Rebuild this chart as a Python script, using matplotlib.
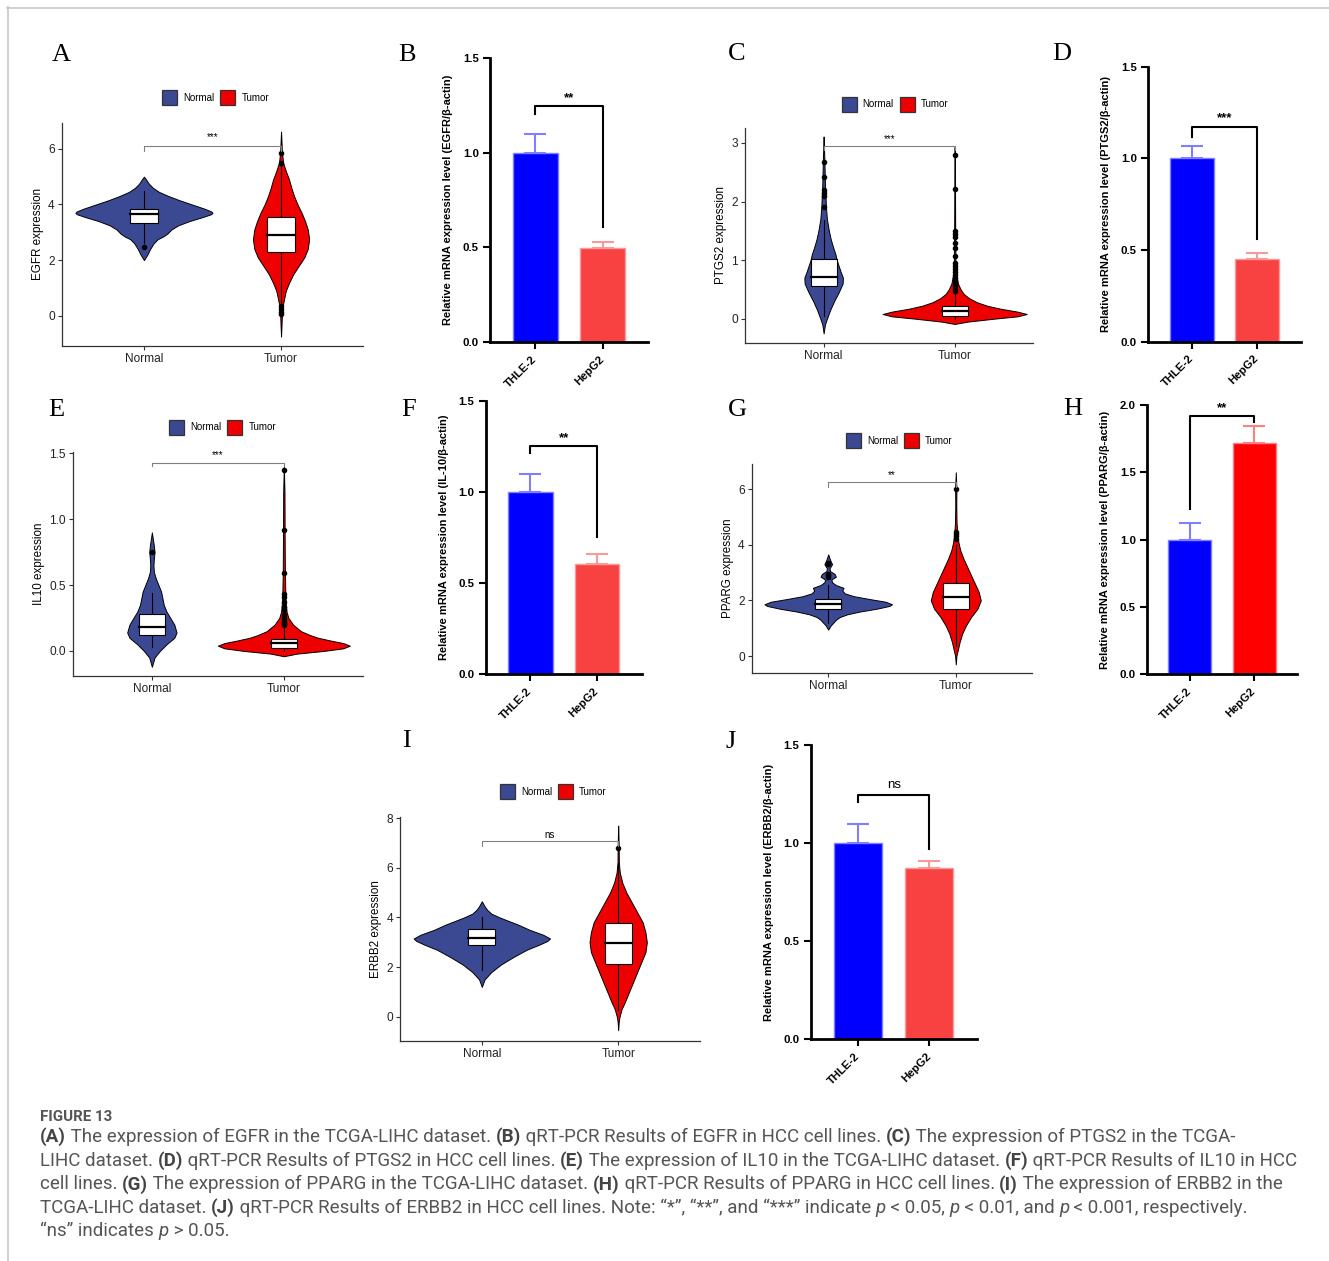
import matplotlib
matplotlib.use("Agg")
import matplotlib.pyplot as plt
from matplotlib.patches import Rectangle
from matplotlib import font_manager
import numpy as np

W, H = 1329, 1261

GROUPS = ["Normal", "Tumor"]
CELL_LINES = ["THLE-2", "HepG2"]

# TCGA violins: outline as (y, half width), box = [whisker_lo, q1, median, q3, whisker_hi], outliers
EGFR_N_Y = [2.0, 2.2, 2.4, 2.6, 2.75, 2.85, 2.95, 3.1, 3.25, 3.4, 3.55, 3.65, 3.7, 3.75, 3.85, 4.0, 4.15, 4.3, 4.45, 4.6, 4.75, 4.9, 5.0]
EGFR_N_W = [0, 0.025, 0.045, 0.07, 0.1, 0.14, 0.17, 0.2, 0.25, 0.33, 0.43, 0.49, 0.5, 0.49, 0.44, 0.35, 0.26, 0.18, 0.11, 0.065, 0.035, 0.015, 0]
EGFR_N_BOX = [2.6, 3.35, 3.65, 3.84, 4.5]
EGFR_N_OUT = [2.46]
EGFR_T_Y = [-0.75, -0.4, 0.0, 0.3, 0.6, 0.9, 1.2, 1.5, 1.8, 2.1, 2.4, 2.75, 3.1, 3.4, 3.7, 4.0, 4.3, 4.6, 4.9, 5.2, 5.5, 5.9, 6.3, 6.62]
EGFR_T_W = [0, 0.003, 0.006, 0.01, 0.022, 0.035, 0.06, 0.09, 0.13, 0.17, 0.195, 0.205, 0.195, 0.175, 0.15, 0.12, 0.095, 0.075, 0.058, 0.035, 0.015, 0.006, 0.003, 0]
EGFR_T_BOX = [0.45, 2.3, 2.9, 3.54, 5.4]
EGFR_T_OUT = [5.85, 5.5, 0.35, 0.25, 0.15, 0.05]

PTGS2_N_Y = [-0.25, -0.1, 0.0, 0.15, 0.3, 0.45, 0.6, 0.7, 0.8, 0.9, 1.0, 1.1, 1.2, 1.35, 1.5, 1.7, 1.9, 2.1, 2.3, 2.5, 2.7, 2.9, 3.11]
PTGS2_N_W = [0, 0.01, 0.025, 0.05, 0.08, 0.115, 0.145, 0.147, 0.13, 0.115, 0.1, 0.09, 0.075, 0.055, 0.04, 0.025, 0.018, 0.014, 0.01, 0.008, 0.006, 0.003, 0]
PTGS2_N_BOX = [0.05, 0.565, 0.72, 1.015, 1.69]
PTGS2_N_OUT = [1.9, 2.1, 2.15, 2.2, 2.42, 2.68]
PTGS2_T_Y = [-0.09, -0.05, 0.0, 0.04, 0.08, 0.12, 0.17, 0.22, 0.28, 0.35, 0.42, 0.5, 0.6, 0.75, 1.0, 1.5, 2.0, 2.5, 2.93]
PTGS2_T_W = [0, 0.1, 0.3, 0.48, 0.55, 0.48, 0.35, 0.25, 0.17, 0.11, 0.07, 0.045, 0.025, 0.012, 0.006, 0.004, 0.003, 0.002, 0]
PTGS2_T_BOX = [0.0, 0.05, 0.137, 0.217, 0.46]
PTGS2_T_OUT = [2.8, 2.21, 1.5, 1.45, 1.4, 1.3, 1.2, 1.07, 0.95, 0.9, 0.85, 0.8, 0.75, 0.7, 0.65, 0.6, 0.55, 0.5, 0.47]

IL10_N_Y = [-0.12, -0.05, 0.0, 0.05, 0.1, 0.14, 0.2, 0.25, 0.3, 0.35, 0.4, 0.45, 0.5, 0.55, 0.6, 0.65, 0.7, 0.75, 0.8, 0.9]
IL10_N_W = [0, 0.02, 0.06, 0.11, 0.17, 0.187, 0.17, 0.14, 0.11, 0.09, 0.08, 0.07, 0.05, 0.03, 0.015, 0.012, 0.015, 0.02, 0.015, 0]
IL10_N_BOX = [0.033, 0.121, 0.184, 0.28, 0.44]
IL10_N_OUT = [0.75]
IL10_T_Y = [-0.04, -0.02, 0.0, 0.02, 0.04, 0.06, 0.08, 0.1, 0.12, 0.15, 0.2, 0.25, 0.3, 0.4, 0.6, 0.9, 1.2, 1.4]
IL10_T_W = [0, 0.1, 0.3, 0.45, 0.5, 0.45, 0.35, 0.26, 0.2, 0.13, 0.07, 0.035, 0.02, 0.012, 0.008, 0.006, 0.005, 0]
IL10_T_BOX = [0.0, 0.02, 0.058, 0.089, 0.19]
IL10_T_OUT = [1.37, 0.92, 0.59, 0.43, 0.41, 0.37, 0.33, 0.31, 0.27, 0.25, 0.24, 0.22, 0.21, 0.2]

PPARG_N_Y = [0.95, 1.1, 1.2, 1.3, 1.4, 1.5, 1.6, 1.7, 1.8, 1.86, 1.95, 2.05, 2.15, 2.25, 2.35, 2.45, 2.55, 2.65, 2.75, 2.85, 2.95, 3.05, 3.15, 3.3, 3.45, 3.65]
PPARG_N_W = [0, 0.02, 0.04, 0.06, 0.09, 0.15, 0.25, 0.38, 0.48, 0.5, 0.45, 0.32, 0.2, 0.13, 0.11, 0.12, 0.06, 0.03, 0.025, 0.06, 0.05, 0.015, 0.01, 0.03, 0.015, 0]
PPARG_N_BOX = [1.2, 1.68, 1.86, 2.05, 2.55]
PPARG_N_OUT = [2.85, 2.9, 2.95, 3.3, 3.35]
PPARG_T_Y = [-0.3, 0.0, 0.2, 0.5, 0.8, 1.1, 1.4, 1.7, 2.0, 2.3, 2.6, 2.9, 3.2, 3.5, 3.8, 4.1, 4.4, 4.8, 5.4, 6.0, 6.6]
PPARG_T_W = [0, 0.005, 0.015, 0.03, 0.05, 0.08, 0.12, 0.17, 0.196, 0.18, 0.15, 0.12, 0.09, 0.06, 0.035, 0.02, 0.012, 0.006, 0.004, 0.005, 0]
PPARG_T_BOX = [0.35, 1.7, 2.13, 2.62, 4.0]
PPARG_T_OUT = [4.2, 4.3, 4.4, 4.45, 6.0]

ERBB2_N_Y = [1.2, 1.5, 1.8, 2.1, 2.4, 2.7, 2.9, 3.05, 3.15, 3.3, 3.5, 3.7, 3.85, 4.0, 4.15, 4.3, 4.45, 4.65]
ERBB2_N_W = [0, 0.02, 0.07, 0.14, 0.23, 0.33, 0.42, 0.48, 0.5, 0.45, 0.35, 0.27, 0.2, 0.13, 0.07, 0.04, 0.02, 0]
ERBB2_N_BOX = [1.89, 2.87, 3.18, 3.53, 4.01]
ERBB2_N_OUT = []
ERBB2_T_Y = [-0.55, -0.2, 0.0, 0.3, 0.6, 1.0, 1.4, 1.8, 2.2, 2.6, 3.0, 3.4, 3.8, 4.2, 4.6, 5.0, 5.4, 5.8, 6.2, 6.8, 7.3, 7.7]
ERBB2_T_W = [0, 0.004, 0.01, 0.025, 0.05, 0.08, 0.11, 0.14, 0.17, 0.2, 0.21, 0.2, 0.18, 0.14, 0.1, 0.06, 0.03, 0.012, 0.005, 0.004, 0.002, 0]
ERBB2_T_BOX = [0.25, 2.13, 2.97, 3.77, 6.2]
ERBB2_T_OUT = [6.79]

# qRT-PCR bars: mean and upper error
EGFR_QPCR = [1.0, 0.495]
EGFR_QPCR_ERR = [0.10, 0.033]
PTGS2_QPCR = [1.0, 0.449]
PTGS2_QPCR_ERR = [0.067, 0.033]
IL10_QPCR = [1.0, 0.604]
IL10_QPCR_ERR = [0.098, 0.055]
PPARG_QPCR = [1.0, 1.716]
PPARG_QPCR_ERR = [0.126, 0.131]
ERBB2_QPCR = [1.0, 0.874]
ERBB2_QPCR_ERR = [0.097, 0.034]

CAPTION_LINES = [
    [("(A)", "b"), (" The expression of EGFR in the TCGA-LIHC dataset. ", "n"), ("(B)", "b"),
     (" qRT-PCR Results of EGFR in HCC cell lines. ", "n"), ("(C)", "b"), (" The expression of PTGS2 in the TCGA-", "n")],
    [("LIHC dataset. ", "n"), ("(D)", "b"), (" qRT-PCR Results of PTGS2 in HCC cell lines. ", "n"), ("(E)", "b"),
     (" The expression of IL10 in the TCGA-LIHC dataset. ", "n"), ("(F)", "b"), (" qRT-PCR Results of IL10 in HCC", "n")],
    [("cell lines. ", "n"), ("(G)", "b"), (" The expression of PPARG in the TCGA-LIHC dataset. ", "n"), ("(H)", "b"),
     (" qRT-PCR Results of PPARG in HCC cell lines. ", "n"), ("(I)", "b"), (" The expression of ERBB2 in the", "n")],
    [("TCGA-LIHC dataset. ", "n"), ("(J)", "b"),
     (" qRT-PCR Results of ERBB2 in HCC cell lines. Note: \u201c*\u201d, \u201c**\u201d, and \u201c***\u201d indicate ", "n"),
     ("p", "i"), (" < 0.05, ", "n"), ("p", "i"), (" < 0.01, and ", "n"), ("p", "i"), (" < 0.001, respectively.", "n")],
    [("\u201cns\u201d indicates ", "n"), ("p", "i"), (" > 0.05.", "n")],
]

NAVY, RED = "#3B4992", "#EE0000"
BLUE, SALMON, PURE_RED = "#0000FF", "#F84141", "#FF0000"

fig = plt.figure(figsize=(W / 100, H / 100), dpi=100)
renderer = fig.canvas.get_renderer()

over = fig.add_axes([0, 0, 1, 1])
over.set_xlim(0, W)
over.set_ylim(H, 0)
over.axis("off")

sans = "Liberation Sans"


def px_axes(left, top, right, bottom):
    ax = fig.add_axes([left / W, 1 - bottom / H, (right - left) / W, (bottom - top) / H])
    ax.set_facecolor("none")
    return ax


def violin_panel(rect, ylim, yticks, yticklabels, ylabel, groups, bracket):
    ax = px_axes(*rect)
    for i, (vy, vw, box, out, col) in enumerate(groups):
        x0 = i + 1
        vy = np.asarray(vy)
        vw = np.asarray(vw)
        ax.fill_betweenx(vy, x0 - vw, x0 + vw, facecolor=col, edgecolor="black", lw=0.7, zorder=2)
        lo, q1, med, q3, hi = box
        ax.plot([x0, x0], [lo, q1], color="black", lw=0.8, zorder=3)
        ax.plot([x0, x0], [q3, hi], color="black", lw=0.8, zorder=3)
        ax.add_patch(Rectangle((x0 - 0.1, q1), 0.2, q3 - q1, facecolor="white",
                               edgecolor="black", lw=0.8, zorder=4))
        ax.plot([x0 - 0.1, x0 + 0.1], [med, med], color="black", lw=1.6, zorder=5)
        if out:
            ax.plot([x0] * len(out), out, "o", color="black", ms=3, zorder=5)
    yb, yt, label, ty = bracket
    ax.plot([1, 1, 2, 2], [yt, yb, yb, yt], color="#808080", lw=0.8, zorder=6)
    ax.text(1.5, ty, label, ha="center", va="center", fontsize=7, family=sans)
    ax.set_xlim(0.4, 2.6)
    ax.set_ylim(*ylim)
    ax.set_xticks([1, 2])
    ax.set_xticklabels(GROUPS, fontsize=8.6, family=sans, color="#222222")
    ax.set_yticks(yticks)
    ax.set_yticklabels(yticklabels, fontsize=8.6, family=sans, color="#222222")
    ax.set_ylabel(ylabel, fontsize=8.4, family=sans, labelpad=3)
    for s in ["top", "right"]:
        ax.spines[s].set_visible(False)
    for s in ["left", "bottom"]:
        ax.spines[s].set_color("#333333")
        ax.spines[s].set_linewidth(0.9)
    ax.tick_params(length=3, width=0.8, color="#333333", pad=2)
    return ax


def bar_panel(rect, ymax, yticks, ylabel, means, errs, colors, ecolors, bracket):
    ax = px_axes(*rect)
    x = np.arange(len(CELL_LINES))
    ax.bar(x, means, width=0.67, color=colors, edgecolor=ecolors, lw=1, zorder=2)
    for xi, m, e, ec in zip(x, means, errs, ecolors):
        ax.errorbar(xi, m, yerr=[[0], [e]], fmt="none", ecolor=ec, elinewidth=1.5,
                    capsize=8, capthick=1.5, zorder=3)
    yb, yl, yr, label, ty = bracket
    ax.plot([0, 0, 1, 1], [yl, yb, yb, yr], color="black", lw=1.5, clip_on=False, zorder=4)
    ax.text(0.5, ty, label, ha="center", va="center", fontsize=9.5, family=sans,
            fontweight="normal" if label == "ns" else "bold")
    ax.set_xlim(-0.67, 1.67)
    ax.set_ylim(0, ymax)
    ax.set_yticks(yticks)
    ax.set_yticklabels([f"{v:.1f}" for v in yticks], fontsize=8.2, family=sans, fontweight="bold")
    ax.set_xticks(x)
    ax.set_xticklabels(CELL_LINES, fontsize=8.2, family=sans, fontweight="bold",
                       rotation=45, ha="right", va="center", rotation_mode="anchor")
    ax.set_ylabel(ylabel, fontsize=8, family=sans, fontweight="bold", labelpad=7)
    for s in ["top", "right"]:
        ax.spines[s].set_visible(False)
    for s in ["left", "bottom"]:
        ax.spines[s].set_linewidth(2)
    ax.tick_params(length=5, width=1.5, pad=3)
    ax.tick_params(axis="x", pad=6)
    return ax


def legend(x, y):
    for dx, col, name in [(0, NAVY, GROUPS[0]), (58, RED, GROUPS[1])]:
        over.add_patch(Rectangle((x + dx, y - 7.5), 15, 15, facecolor=col, edgecolor="#333333", lw=0.9))
        over.text(x + dx + 21, y, name, fontsize=7, family=sans, va="center", ha="left")


# TCGA violin panels
violin_panel((61.7, 122.7, 363.3, 346), (-1.09, 6.94), [0, 2, 4, 6], ["0", "2", "4", "6"], "EGFR expression",
             [(EGFR_N_Y, EGFR_N_W, EGFR_N_BOX, EGFR_N_OUT, NAVY), (EGFR_T_Y, EGFR_T_W, EGFR_T_BOX, EGFR_T_OUT, RED)],
             (6.12, 5.94, "***", 6.42))
violin_panel((745, 127.7, 1033.3, 342.7), (-0.41, 3.26), [0, 1, 2, 3], ["0", "1", "2", "3"], "PTGS2 expression",
             [(PTGS2_N_Y, PTGS2_N_W, PTGS2_N_BOX, PTGS2_N_OUT, NAVY), (PTGS2_T_Y, PTGS2_T_W, PTGS2_T_BOX, PTGS2_T_OUT, RED)],
             (2.94, 2.88, "***", 3.07))
violin_panel((72.7, 452, 363, 676), (-0.19, 1.51), [0, 0.5, 1.0, 1.5], ["0.0", "0.5", "1.0", "1.5"], "IL10 expression",
             [(IL10_N_Y, IL10_N_W, IL10_N_BOX, IL10_N_OUT, NAVY), (IL10_T_Y, IL10_T_W, IL10_T_BOX, IL10_T_OUT, RED)],
             (1.43, 1.40, "***", 1.49))
violin_panel((751.7, 464, 1032.3, 672.7), (-0.6, 6.9), [0, 2, 4, 6], ["0", "2", "4", "6"], "PPARG expression",
             [(PPARG_N_Y, PPARG_N_W, PPARG_N_BOX, PPARG_N_OUT, NAVY), (PPARG_T_Y, PPARG_T_W, PPARG_T_BOX, PPARG_T_OUT, RED)],
             (6.24, 6.06, "**", 6.5))
violin_panel((400, 816.7, 700, 1040.7), (-0.97, 8.06), [0, 2, 4, 6, 8], ["0", "2", "4", "6", "8"], "ERBB2 expression",
             [(ERBB2_N_Y, ERBB2_N_W, ERBB2_N_BOX, ERBB2_N_OUT, NAVY), (ERBB2_T_Y, ERBB2_T_W, ERBB2_T_BOX, ERBB2_T_OUT, RED)],
             (7.08, 6.88, "ns", 7.32))

# qRT-PCR bar panels
yt15 = [0, 0.5, 1.0, 1.5]
bar_panel((490, 58, 648, 342), 1.5, yt15, "Relative mRNA expression level (EGFR/\u03b2-actin)",
          EGFR_QPCR, EGFR_QPCR_ERR, [BLUE, SALMON], ["#7F7FFF", "#F99A9A"], (1.244, 1.205, 0.607, "**", 1.29))
bar_panel((1148, 66.7, 1300.7, 341.7), 1.5, yt15, "Relative mRNA expression level (PTGS2/\u03b2-actin)",
          PTGS2_QPCR, PTGS2_QPCR_ERR, [BLUE, SALMON], ["#7F7FFF", "#F99A9A"], (1.169, 1.118, 0.558, "***", 1.22))
bar_panel((485.7, 401, 641.7, 674.3), 1.5, yt15, "Relative mRNA expression level (IL-10/\u03b2-actin)",
          IL10_QPCR, IL10_QPCR_ERR, [BLUE, SALMON], ["#7F7FFF", "#F99A9A"], (1.253, 1.216, 0.752, "**", 1.295))
bar_panel((1147, 405, 1297, 674.3), 2.0, [0, 0.5, 1.0, 1.5, 2.0], "Relative mRNA expression level (PPARG/\u03b2-actin)",
          PPARG_QPCR, PPARG_QPCR_ERR, [BLUE, PURE_RED], ["#7F7FFF", "#FF8080"], (1.919, 1.228, 1.877, "**", 1.976))
bar_panel((810.7, 745, 976.7, 1039), 1.5, yt15, "Relative mRNA expression level (ERBB2/\u03b2-actin)",
          ERBB2_QPCR, ERBB2_QPCR_ERR, [BLUE, SALMON], ["#7F7FFF", "#F99A9A"], (1.245, 1.207, 0.969, "ns", 1.296))

# legends
legend(162.3, 97.7)
legend(841.7, 104)
legend(169.3, 427.3)
legend(846, 440.7)
legend(500, 791.7)

# panel letters
for letter, lx, ly in [("A", 52, 61), ("B", 398, 61), ("C", 728, 60), ("D", 1052, 60),
                       ("E", 48, 416.5), ("F", 401, 416.5), ("G", 728, 416.5), ("H", 1063, 415),
                       ("I", 402, 747), ("J", 725, 748)]:
    over.text(lx, ly, letter, fontsize=19, family="Liberation Serif", va="baseline", ha="left")

# frame lines
over.plot([7, W], [7.5, 7.5], color="#c8c8c8", lw=1.2)
over.plot([7.5, 7.5], [7, H], color="#c8c8c8", lw=1.2)

# caption
names = {f.name for f in font_manager.fontManager.ttflist}
cap_font = "Liberation Sans Narrow" if "Liberation Sans Narrow" in names else "Roboto"


def seg_width(s, size, style):
    prop = font_manager.FontProperties(family=cap_font, size=size,
                                       weight="bold" if style == "b" else "normal",
                                       style="italic" if style == "i" else "normal")
    w1, _, _ = renderer.get_text_width_height_descent("x" + s + "x", prop, ismath=False)
    w0, _, _ = renderer.get_text_width_height_descent("xx", prop, ismath=False)
    return w1 - w0


widest = max(sum(seg_width(s, 10, st) for s, st in parts) for parts in CAPTION_LINES)
cap_size = 10 * 1258 / widest

over.text(40, 1117, "FIGURE 13", fontsize=cap_size * 0.8, family=cap_font, fontweight="bold",
          color="#555555", va="center", ha="left")
for k, parts in enumerate(CAPTION_LINES):
    x = 40
    y = 1137 + k * 23.6
    for s, st in parts:
        over.text(x, y, s, fontsize=cap_size, family=cap_font,
                  fontweight="bold" if st == "b" else "normal",
                  fontstyle="italic" if st == "i" else "normal",
                  color="#444444" if st == "b" else "#555555", va="center", ha="left")
        x += seg_width(s, cap_size, st)

fig.savefig("out.png", dpi=100, facecolor="white")
